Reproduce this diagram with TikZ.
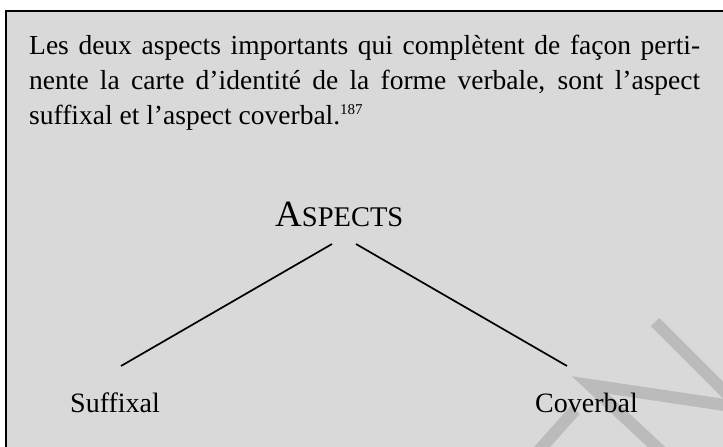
\documentclass[tikz,border=0pt]{standalone}
\usepackage{fontspec}
\setmainfont{Liberation Serif}
\definecolor{boxgray}{HTML}{D9D9D9}
\definecolor{wmgray}{HTML}{BBBBBB}
\tikzset{
  label/.style={inner sep=0pt, font=\fontsize{28}{32}\selectfont},
  branch/.style={line width=1.7pt, black},
  wm/.style={line width=12pt, wmgray},
}
\begin{document}
\begin{tikzpicture}[x=1pt,y=-1pt]
\useasboundingbox (0,0) rectangle (723,447);
\begin{scope}
\clip (0,0) rectangle (723,447);
\fill[boxgray] (6,11) rectangle (740,460);
\draw[line width=2.6pt] (6,470) -- (6,11) -- (740,11);
% watermark fragments
\draw[wm] (655,322) -- (745,412);
\draw[wm, line join=miter] (745,408) -- (590,385) -- (665,455);
\draw[wm] (575,410) -- (535,455);
\end{scope}
\node[anchor=base west, inner sep=0pt, text width=671pt, align=justify,
      font=\fontsize{27.5}{35}\selectfont] (para) at (29,54)
  {Les deux aspects importants qui complètent de façon perti-\linebreak nente la carte d’identité de la forme verbale, sont l’aspect\linebreak suffixal et l’aspect coverbal.\textsuperscript{\fontsize{15}{15}\selectfont 187}};
\node[label, anchor=base west] (asp) at (275,226)
  {\fontsize{37}{37}\selectfont A\fontsize{28.5}{28.5}\selectfont SPECTS};
\node[label, anchor=base west] (suf) at (70,412) {Suffixal};
\node[label, anchor=base west] (cov) at (535,412) {Coverbal};
\coordinate (aspL) at (332,244);
\coordinate (aspR) at (356,244);
\coordinate (sufT) at (121,366);
\coordinate (covT) at (567,366);
\draw[branch] (aspL) -- (sufT);
\draw[branch] (aspR) -- (covT);
\end{tikzpicture}
\end{document}
